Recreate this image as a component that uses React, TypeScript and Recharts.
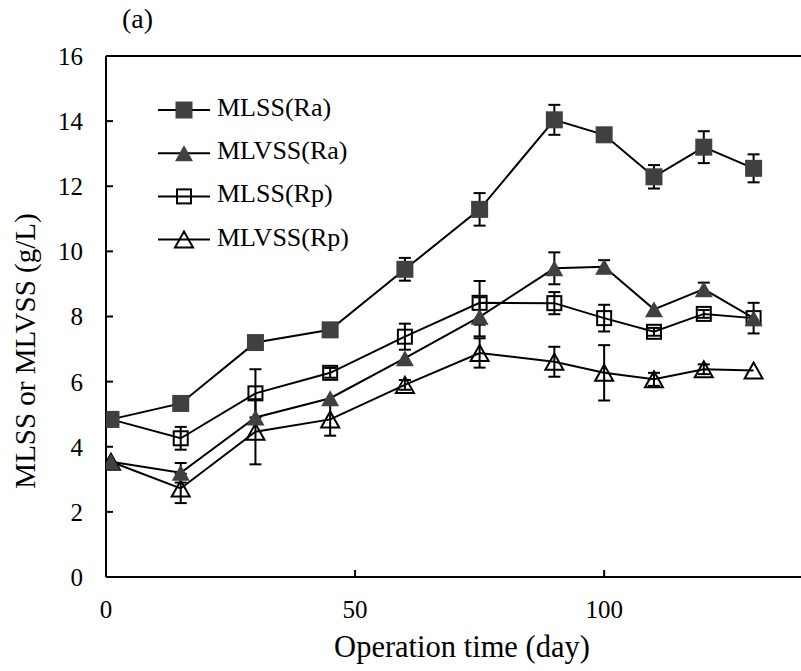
import React from 'react';
import { LineChart, Line, XAxis, YAxis, ErrorBar, ReferenceLine, Customized } from 'recharts';

const days = [1, 15, 30, 45, 60, 75, 90, 100, 110, 120, 130];
const mlssRa = [4.84, 5.33, 7.2, 7.59, 9.45, 11.29, 14.04, 13.58, 12.29, 13.2, 12.55];
const mlssRaErr = [null, null, null, null, 0.35, 0.5, 0.46, null, 0.36, 0.49, 0.43];
const mlvssRa = [3.54, 3.2, 4.9, 5.49, 6.72, 7.99, 9.48, 9.53, 8.22, 8.84, 7.95];
const mlvssRaErr = [null, 0.3, null, null, null, 0.6, 0.49, 0.2, null, 0.2, null];
const mlssRp = [4.84, 4.26, 5.64, 6.27, 7.38, 8.42, 8.41, 7.95, 7.53, 8.08, 7.95];
const mlssRpErr = [null, 0.35, 0.74, 0.15, 0.4, 0.67, 0.34, 0.41, 0.12, 0.12, 0.47];
const mlvssRp = [3.54, 2.72, 4.46, 4.84, 5.9, 6.88, 6.61, 6.27, 6.07, 6.38, 6.34];
const mlvssRpErr = [null, 0.45, 1.0, 0.5, 0.15, 0.45, 0.46, 0.85, 0.2, 0.15, null];

const xTicks = [0, 50, 100];
const yTicks = [0, 2, 4, 6, 8, 10, 12, 14, 16];
const xMax = 141;

const seriesNames = ['MLSS(Ra)', 'MLVSS(Ra)', 'MLSS(Rp)', 'MLVSS(Rp)'];
const seriesKinds = ['fsq', 'ftri', 'osq', 'otri'];

const data = days.map((d, i) => ({
  day: d,
  mlssRa: mlssRa[i],
  mlssRaErr: mlssRaErr[i],
  mlvssRa: mlvssRa[i],
  mlvssRaErr: mlvssRaErr[i],
  mlssRp: mlssRp[i],
  mlssRpErr: mlssRpErr[i],
  mlvssRp: mlvssRp[i],
  mlvssRpErr: mlvssRpErr[i],
}));

const FONT = 'Liberation Serif';
const DARK = '#404040';
const textStyle = { fontFamily: "'Liberation Serif', 'DejaVu Serif', serif" };

function markerShape(kind: string, cx: number, cy: number, key?: string) {
  if (kind === 'fsq') {
    return <rect key={key} x={cx - 8.5} y={cy - 8.5} width={17} height={17} fill={DARK} />;
  }
  if (kind === 'ftri') {
    return (
      <polygon key={key} points={`${cx},${cy - 8} ${cx - 9},${cy + 8} ${cx + 9},${cy + 8}`} fill={DARK} />
    );
  }
  if (kind === 'osq') {
    return (
      <rect key={key} x={cx - 7} y={cy - 7} width={14} height={14} fill="none" stroke="#000" strokeWidth={2} />
    );
  }
  return (
    <polygon
      key={key}
      points={`${cx},${cy - 8} ${cx - 9},${cy + 8} ${cx + 9},${cy + 8}`}
      fill="none"
      stroke="#000"
      strokeWidth={2}
    />
  );
}

const makeDot = (kind: string) => (props: any) => {
  const { cx, cy, index } = props;
  if (cx == null || cy == null) return <g key={`${kind}-${index}`} />;
  return markerShape(kind, cx, cy, `${kind}-${index}`);
};

function Overlay() {
  return (
    <g style={textStyle}>
      <text x={122} y={28} fontFamily={FONT} style={textStyle} fontSize={28} fill="#000">(a)</text>
      <text x={462} y={657} fontFamily={FONT} style={textStyle} fontSize={30.5} fill="#000" textAnchor="middle">
        Operation time (day)
      </text>
      <text
        x={35}
        y={351}
        fontFamily={FONT}
        style={textStyle}
        fontSize={29}
        fill="#000"
        textAnchor="middle"
        transform="rotate(-90, 35, 351)"
      >
        MLSS or MLVSS (g/L)
      </text>
      {seriesNames.map((name, i) => {
        const ly = 110 + i * 43.2;
        return (
          <g key={name}>
            <line x1={158} x2={210} y1={ly} y2={ly} stroke="#000" strokeWidth={2} />
            {markerShape(seriesKinds[i], 184, ly)}
            <text x={217} y={ly + 6} fontFamily={FONT} style={textStyle} fontSize={26} fill="#000">
              {name}
            </text>
          </g>
        );
      })}
    </g>
  );
}

const tickStyle = { fontFamily: FONT, fontSize: 25, fill: '#000', style: textStyle };

export default function App() {
  return (
    <div style={{ position: 'absolute', left: 0, top: 0, width: 801, height: 671, overflow: 'hidden', background: '#fff', fontFamily: "'Liberation Serif', serif" }}>
      <LineChart
        width={801}
        height={671}
        data={data}
        margin={{ top: 56, right: 20, bottom: 64, left: 0 }}
        style={textStyle}
      >
        <XAxis
          type="number"
          dataKey="day"
          domain={[0, 135.5]}
          ticks={xTicks}
          allowDataOverflow
          height={30}
          tickSize={-7}
          tickMargin={30}
          axisLine={{ stroke: '#000', strokeWidth: 2 }}
          tickLine={{ stroke: '#000', strokeWidth: 2 }}
          tick={tickStyle}
        />
        <YAxis
          type="number"
          domain={[0, 16]}
          ticks={yTicks}
          width={106}
          tickSize={-7}
          tickMargin={30}
          axisLine={{ stroke: '#000', strokeWidth: 2 }}
          tickLine={{ stroke: '#000', strokeWidth: 2 }}
          tick={tickStyle}
        />
        <ReferenceLine
          segment={[{ x: 0, y: 16 }, { x: xMax, y: 16 }]}
          ifOverflow="visible"
          stroke="#000"
          strokeWidth={2}
        />
        <ReferenceLine
          segment={[{ x: 0, y: 0 }, { x: xMax, y: 0 }]}
          ifOverflow="visible"
          stroke="#000"
          strokeWidth={2}
        />
        <Line
          dataKey="mlvssRp"
          stroke="#000"
          strokeWidth={2}
          dot={makeDot('otri')}
          activeDot={false}
          isAnimationActive={false}
        >
          <ErrorBar dataKey="mlvssRpErr" width={6} stroke="#000" strokeWidth={2} direction="y" />
        </Line>
        <Line
          dataKey="mlssRp"
          stroke="#000"
          strokeWidth={2}
          dot={makeDot('osq')}
          activeDot={false}
          isAnimationActive={false}
        >
          <ErrorBar dataKey="mlssRpErr" width={6} stroke="#000" strokeWidth={2} direction="y" />
        </Line>
        <Line
          dataKey="mlvssRa"
          stroke="#000"
          strokeWidth={2}
          dot={makeDot('ftri')}
          activeDot={false}
          isAnimationActive={false}
        >
          <ErrorBar dataKey="mlvssRaErr" width={6} stroke="#000" strokeWidth={2} direction="y" />
        </Line>
        <Line
          dataKey="mlssRa"
          stroke="#000"
          strokeWidth={2}
          dot={makeDot('fsq')}
          activeDot={false}
          isAnimationActive={false}
        >
          <ErrorBar dataKey="mlssRaErr" width={6} stroke="#000" strokeWidth={2} direction="y" />
        </Line>
        <Customized component={Overlay} />
      </LineChart>
    </div>
  );
}
